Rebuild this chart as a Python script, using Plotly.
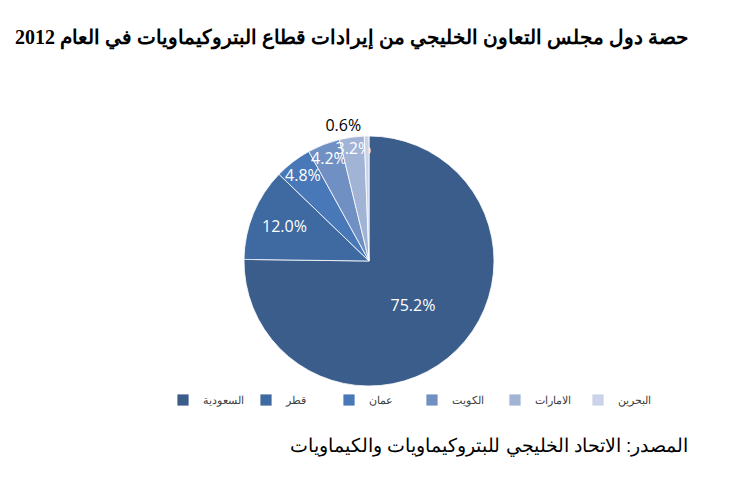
import plotly.graph_objects as go

countries = ["السعودية", "قطر", "عمان", "الكويت", "الامارات", "البحرين"]
shares = [75.2, 12.0, 4.8, 4.2, 3.2, 0.6]
colors = ["#3A5D8B", "#3E69A1", "#4878B7", "#7090C3", "#A2B4D6", "#CAD3E7"]
title_text = "حصة دول مجلس التعاون الخليجي من إيرادات قطاع البتروكيماويات في العام 2012"
source_text = "المصدر: الاتحاد الخليجي للبتروكيماويات والكيماويات"

W, H = 729, 489
cx, cy, r = 369, 261, 125

fig = go.Figure(go.Pie(
    labels=countries,
    values=shares,
    sort=False,
    direction="clockwise",
    rotation=0,
    marker=dict(colors=colors, line=dict(color="white", width=0.8)),
    texttemplate=[f"{v:.1f}%" for v in shares],
    textinfo="text",
    textposition=["inside"] * 5 + ["outside"],
    insidetextorientation="horizontal",
    insidetextfont=dict(color="white", size=16, family="Open Sans"),
    outsidetextfont=dict(color="black", size=16, family="Open Sans"),
    domain=dict(x=[(cx - r) / W, (cx + r) / W], y=[(H - cy - r) / H, (H - cy + r) / H]),
    hoverinfo="label+percent",
))

fig.update_layout(
    width=W, height=H,
    margin=dict(l=0, r=0, t=0, b=0),
    paper_bgcolor="white",
    showlegend=True,
    uniformtext=dict(minsize=16, mode="show"),
    legend=dict(
        orientation="h", x=163 / W, xanchor="left", y=(H - 400) / H, yanchor="middle",
        font=dict(family="Liberation Sans", size=11, color="#404040"),
        traceorder="normal", entrywidth=38, entrywidthmode="pixels",
        itemwidth=30, bgcolor="rgba(0,0,0,0)",
    ),
    annotations=[
        dict(text="<b>" + title_text + "</b>", x=690 / W, y=1 - 38 / H, xref="paper", yref="paper",
             xanchor="right", yanchor="middle", showarrow=False,
             font=dict(family="Liberation Serif", size=20, color="black")),
        dict(text=source_text, x=690 / W, y=1 - 446 / H, xref="paper", yref="paper",
             xanchor="right", yanchor="middle", showarrow=False,
             font=dict(family="Liberation Sans", size=19, color="black")),
    ],
)

fig.write_html("out.html")
